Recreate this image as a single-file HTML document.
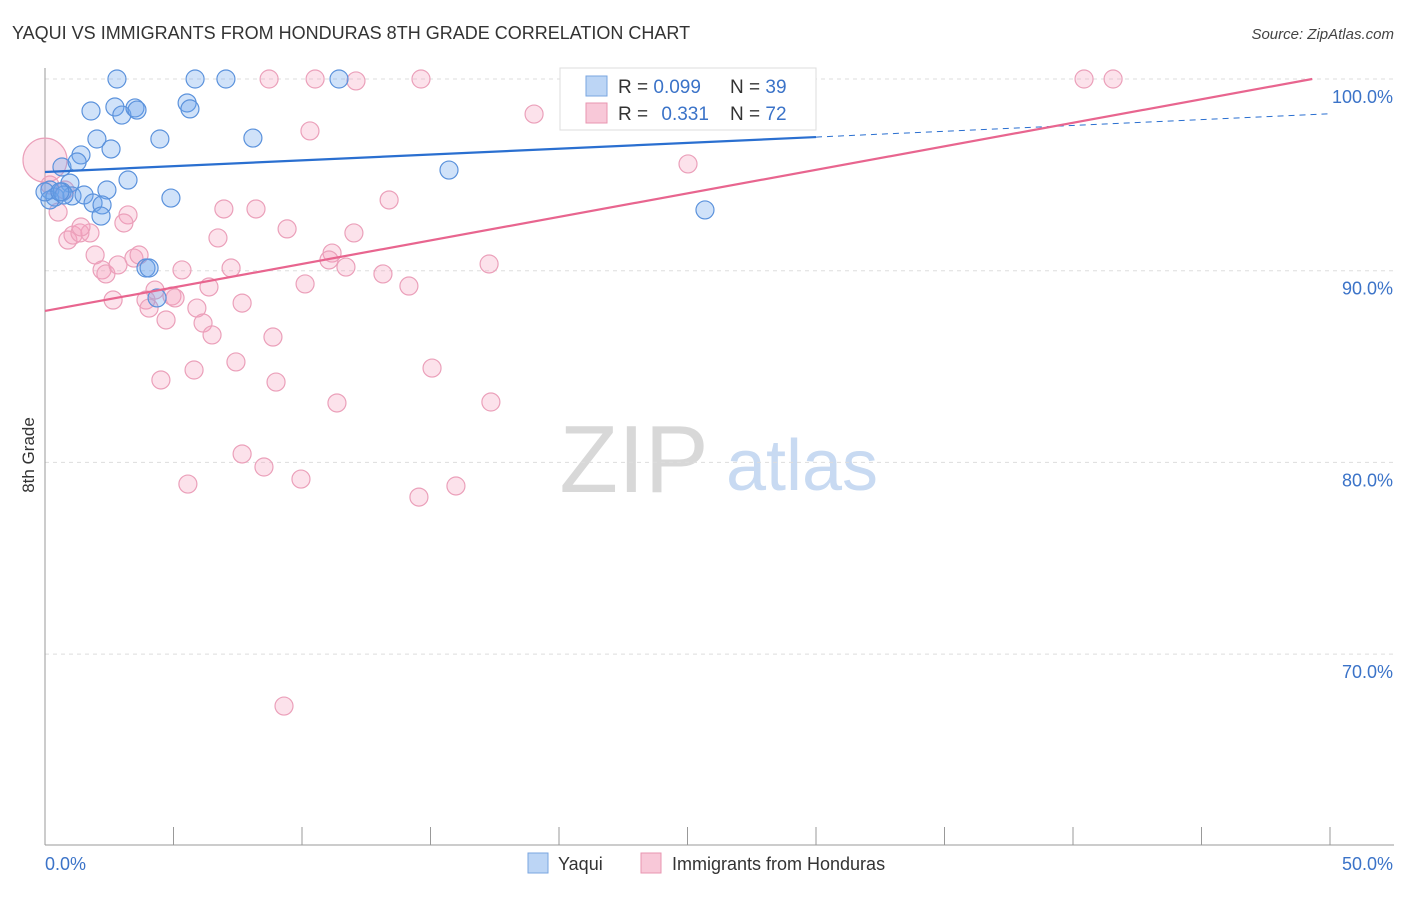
<!DOCTYPE html>
<html><head><meta charset="utf-8"><style>
body{margin:0;background:#fff;font-family:"Liberation Sans",sans-serif}
svg text{font-family:"Liberation Sans",sans-serif}
</style></head><body>
<svg id="chart" width="1406" height="892" viewBox="0 0 1406 892">
<text x="12" y="39" font-size="18" fill="#333">YAQUI VS IMMIGRANTS FROM HONDURAS 8TH GRADE CORRELATION CHART</text>
<text x="1394" y="39" font-size="15" font-style="italic" fill="#444" text-anchor="end">Source: ZipAtlas.com</text>
<text transform="translate(34,455) rotate(-90)" font-size="17" fill="#333" text-anchor="middle">8th Grade</text>
<g>
<text x="634" y="492" font-size="96" font-family="Liberation Serif,serif" fill="#d8d8d8" text-anchor="middle">ZIP</text>
<text x="802" y="490" font-size="72" fill="#c8daf2" text-anchor="middle">atlas</text>
</g>
<g id="grid"></g><g id="axes"></g><g id="pts"></g><g id="lines"></g>
<g>
<rect x="560" y="68" width="256" height="62" fill="#fff" stroke="#ddd"/>
<rect x="586" y="76" width="21" height="20" fill="#bcd5f5" stroke="#7aa6e0"/>
<text x="618" y="93" font-size="19" fill="#333">R = <tspan fill="#3b73c8">0.099</tspan></text>
<text x="730" y="93" font-size="19" fill="#333">N = <tspan fill="#3b73c8">39</tspan></text>
<rect x="586" y="103" width="21" height="20" fill="#f8c8d8" stroke="#e896b0"/>
<text x="618" y="120" font-size="19" fill="#333">R = <tspan fill="#3b73c8" dx="8">0.331</tspan></text>
<text x="730" y="120" font-size="19" fill="#333">N = <tspan fill="#3b73c8">72</tspan></text>
</g>
<g>
<rect x="528" y="853" width="20" height="20" fill="#bcd5f5" stroke="#7aa6e0"/>
<text x="558" y="870" font-size="18" fill="#333">Yaqui</text>
<rect x="641" y="853" width="20" height="20" fill="#f8c8d8" stroke="#e896b0"/>
<text x="672" y="870" font-size="18" fill="#333">Immigrants from Honduras</text>
</g>
</svg>
<script>
const yaquiX=[2.80,5.84,7.04,11.44,1.79,2.72,2.99,3.50,3.58,5.53,5.64,2.02,2.57,4.47,8.09,1.40,0.66,1.25,3.23,0.97,15.72,4.90,2.41,0.19,0.39,1.05,1.52,1.87,2.22,2.18,25.68,3.93,4.05,4.36,0.19,0,0.66,0.74,0.58];
const yaquiY=[100,100,100,100,98.33,98.54,98.12,98.49,98.38,98.75,98.44,96.87,96.35,96.87,96.92,96.04,95.41,95.67,94.73,94.57,95.25,93.79,94.21,94.21,93.84,93.90,93.95,93.53,93.43,92.85,93.17,90.14,90.14,88.58,93.69,94.11,94.11,93.95,94.11];
const hondX=[0,0.19,0.51,0.78,0.89,1.09,1.36,1.75,1.40,1.95,2.22,2.37,2.65,2.84,3.23,3.07,3.46,3.66,3.93,4.05,4.28,4.71,4.94,5.06,5.33,5.91,6.15,6.50,6.38,6.73,6.96,7.24,7.67,8.21,7.43,4.51,5.80,5.56,7.67,8.52,8.99,8.87,9.42,10.12,9.96,9.30,10.31,8.72,10.51,12.10,14.63,11.17,11.05,11.71,12.02,11.36,13.39,13.15,14.16,15.06,14.55,15.99,17.28,17.35,19.03,23.74,24.01,27.43,28.21,25.02,40.43,41.56];
const hondY=[95.77,94.47,93.06,94.21,91.60,91.86,91.97,91.97,92.28,90.82,90.04,89.83,88.47,90.30,92.91,92.49,90.66,90.82,88.47,88.05,88.99,87.43,88.68,88.58,90.04,88.05,87.27,86.65,89.15,91.71,93.22,90.14,88.31,93.22,85.24,84.30,84.82,78.87,80.44,79.76,84.19,86.54,92.18,89.31,79.13,67.29,97.29,100,100,99.90,100,90.92,90.56,90.19,91.97,83.10,93.69,89.83,89.20,84.92,78.19,78.77,90.35,83.15,98.17,100,100,100,100,95.57,100,100];
const yTicks=[100,90,80,70];
const yTickLabels=["100.0%","90.0%","80.0%","70.0%"];
const xTicks=[0,5,10,15,20,25,30,35,40,45,50];
const blueTrend=[95.15,0.0607], pinkTrend=[87.90,0.2454];
const NS="http://www.w3.org/2000/svg";
const X=v=>45+v*25.7, Y=v=>79+(100-v)*19.17;
function mk(p,t,a){const e=document.createElementNS(NS,t);for(const k in a)e.setAttribute(k,a[k]);p.appendChild(e);return e;}
const grid=document.getElementById('grid'),axes=document.getElementById('axes'),pts=document.getElementById('pts'),lines=document.getElementById('lines');
yTicks.forEach((v,i)=>{
 const g=mk(grid,'line',{x1:45,x2:1394,y1:Y(v),y2:Y(v),stroke:'#ddd','stroke-dasharray':'4,4'});
 
 
 const t=mk(axes,'text',{x:1393,y:Y(v)+24,'font-size':18,fill:'#3b73c8','text-anchor':'end'});
 t.textContent=yTickLabels[i];
 
 
});
const ax=mk(axes,'line',{x1:45,x2:45,y1:68,y2:845,stroke:'#999'});


const bx=mk(axes,'line',{x1:45,x2:1394,y1:845,y2:845,stroke:'#999'});


xTicks.forEach(v=>{const t=mk(axes,'line',{x1:X(v),x2:X(v),y1:827,y2:845,stroke:'#999'});
 
 });
const x0=mk(axes,'text',{x:45,y:870,'font-size':18,fill:'#3b73c8'});x0.textContent='0.0%';


const x1=mk(axes,'text',{x:1393,y:870,'font-size':18,fill:'#3b73c8','text-anchor':'end'});x1.textContent='50.0%';


hondX.forEach((v,i)=>{const c=mk(pts,'circle',{cx:X(v),cy:Y(hondY[i]),r:i==0?22:9,fill:'rgba(245,160,190,0.3)',stroke:'#eba0ba','stroke-width':1.2});
 
 });
yaquiX.forEach((v,i)=>{const c=mk(pts,'circle',{cx:X(v),cy:Y(yaquiY[i]),r:9,fill:'rgba(110,165,235,0.32)',stroke:'#5b92dc','stroke-width':1.2});
 
 });
const bl=mk(lines,'line',{x1:X(0),y1:Y(blueTrend[0]),x2:X(30),y2:Y(blueTrend[0]+blueTrend[1]*30),stroke:'#2a6fd0','stroke-width':2.2});


const bd=mk(lines,'line',{x1:X(30),y1:Y(blueTrend[0]+blueTrend[1]*30),x2:X(50),y2:Y(blueTrend[0]+blueTrend[1]*50),stroke:'#2a6fd0','stroke-width':1,'stroke-dasharray':'6,5'});


const xe=(100-pinkTrend[0])/pinkTrend[1];
const pl=mk(lines,'line',{x1:X(0),y1:Y(pinkTrend[0]),x2:X(xe),y2:Y(100),stroke:'#e8658f','stroke-width':2.2});


</script>
</body></html>
